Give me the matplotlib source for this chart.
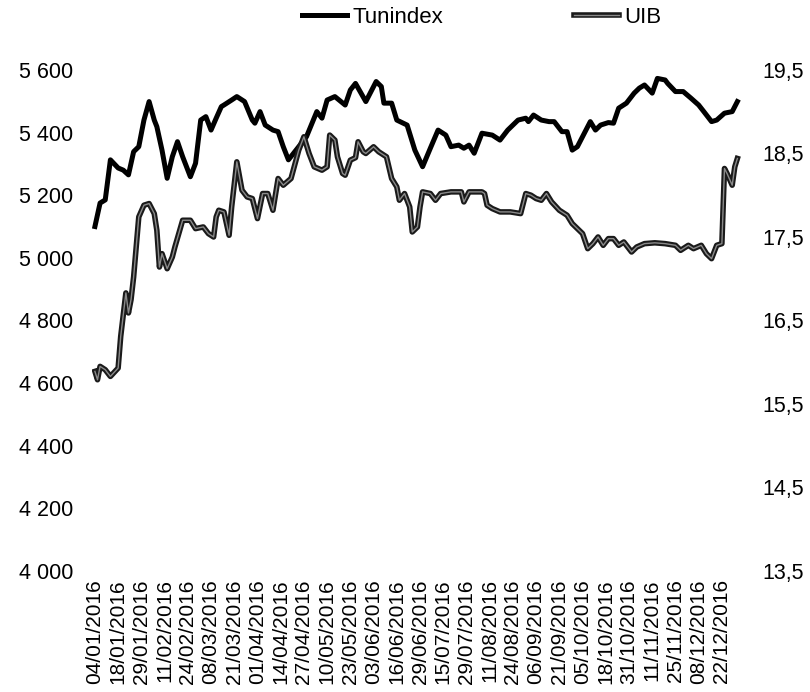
import matplotlib
matplotlib.use("Agg")
import matplotlib.pyplot as plt
import matplotlib.patheffects as pe
from matplotlib.ticker import FuncFormatter

plt.rcParams['font.family'] = ['Liberation Sans', 'DejaVu Sans']

# --- data (x = trading-day index in 2016) ---
tun_days = [0, 2, 4, 6, 9, 11, 13, 15, 17, 19, 21, 23, 24, 26, 28, 30, 32, 34, 37, 39,
            41, 43, 45, 47, 49, 50, 53, 55, 58, 61, 62, 64, 66, 69, 71, 73, 75, 79, 82, 86,
            88, 90, 93, 97, 99, 101, 105, 109, 111, 112, 115, 117, 121, 124, 127, 130, 133, 136, 138, 141,
            143, 145, 147, 150, 154, 157, 160, 164, 167, 168, 170, 173, 176, 178, 181, 183, 185, 187, 190, 192,
            194, 196, 199, 201, 203, 206, 209, 211, 213, 216, 218, 221, 222, 225, 228, 231, 234, 236, 239, 241,
            244, 247, 249]
tunindex = [5100, 5175, 5185, 5313, 5287, 5280, 5265, 5339, 5355, 5440, 5499, 5440, 5419, 5344, 5254, 5323, 5371, 5323, 5259, 5302,
            5440, 5451, 5408, 5446, 5483, 5488, 5504, 5515, 5499, 5440, 5430, 5467, 5424, 5408, 5403, 5355, 5313, 5355, 5387, 5467,
            5446, 5504, 5515, 5488, 5536, 5557, 5499, 5563, 5547, 5494, 5494, 5440, 5424, 5344, 5291, 5350, 5408, 5392, 5355, 5360,
            5350, 5360, 5334, 5398, 5392, 5376, 5408, 5440, 5446, 5435, 5456, 5440, 5435, 5435, 5403, 5403, 5344, 5355, 5403, 5435,
            5408, 5424, 5432, 5430, 5478, 5494, 5526, 5542, 5552, 5526, 5573, 5568, 5557, 5531, 5531, 5510, 5488, 5467, 5435, 5440,
            5462, 5467, 5499]

uib_days = [0, 1, 2, 4, 6, 9, 10, 12, 13, 14, 15, 17, 19, 21, 23, 24, 25, 26, 28, 30,
            31, 34, 37, 39, 42, 44, 46, 47, 48, 50, 52, 53, 55, 57, 59, 61, 63, 65, 67, 69,
            71, 73, 76, 79, 81, 83, 85, 88, 90, 91, 93, 94, 96, 97, 99, 101, 102, 104, 105, 108,
            110, 112, 113, 115, 117, 118, 120, 122, 123, 125, 126, 127, 130, 132, 134, 138, 142, 143, 145, 150,
            151, 152, 154, 157, 161, 165, 167, 169, 171, 173, 175, 177, 180, 183, 185, 187, 189, 191, 193, 195,
            197, 199, 201, 203, 205, 208, 210, 213, 217, 221, 225, 227, 230, 232, 235, 237, 239, 241, 243, 244,
            245, 247, 248, 249]
uib = [15.89, 15.79, 15.95, 15.91, 15.83, 15.93, 16.31, 16.83, 16.59, 16.75, 17.02, 17.74, 17.88, 17.90, 17.78, 17.58, 17.14, 17.30, 17.12, 17.26,
       17.38, 17.70, 17.70, 17.60, 17.62, 17.54, 17.50, 17.74, 17.82, 17.80, 17.52, 17.86, 18.40, 18.06, 17.98, 17.96, 17.72, 18.02, 18.02, 17.82,
       18.20, 18.12, 18.20, 18.54, 18.70, 18.50, 18.34, 18.30, 18.34, 18.72, 18.66, 18.46, 18.26, 18.24, 18.42, 18.45, 18.64, 18.52, 18.50, 18.58,
       18.52, 18.48, 18.46, 18.20, 18.10, 17.94, 18.02, 17.86, 17.56, 17.62, 17.86, 18.04, 18.02, 17.94, 18.02, 18.04, 18.04, 17.92, 18.04, 18.04,
       18.02, 17.88, 17.84, 17.80, 17.80, 17.78, 18.02, 18.00, 17.96, 17.94, 18.02, 17.92, 17.82, 17.76, 17.66, 17.60, 17.54, 17.36, 17.42, 17.50,
       17.40, 17.48, 17.48, 17.40, 17.44, 17.32, 17.38, 17.42, 17.43, 17.42, 17.40, 17.34, 17.40, 17.36, 17.40, 17.30, 17.24, 17.40, 17.42, 18.32,
       18.26, 18.12, 18.34, 18.44]

tick_days = list(range(0, 244, 9))
tick_labels = ["04/01/2016", "18/01/2016", "29/01/2016", "11/02/2016", "24/02/2016", "08/03/2016",
               "21/03/2016", "01/04/2016", "14/04/2016", "27/04/2016", "10/05/2016", "23/05/2016",
               "03/06/2016", "16/06/2016", "29/06/2016", "15/07/2016", "29/07/2016", "11/08/2016",
               "24/08/2016", "06/09/2016", "21/09/2016", "05/10/2016", "18/10/2016", "31/10/2016",
               "11/11/2016", "25/11/2016", "08/12/2016", "22/12/2016"]
left_ticks = [4000, 4200, 4400, 4600, 4800, 5000, 5200, 5400, 5600]
right_ticks = [13.5, 14.5, 15.5, 16.5, 17.5, 18.5, 19.5]

fig = plt.figure(figsize=(8.1, 6.92), dpi=100)
ax = fig.add_axes([0.114, 0.1749, 0.8027, 0.724])
ax2 = ax.twinx()

l1, = ax.plot(tun_days, tunindex, color='black', lw=3.6, solid_joinstyle='round', label='Tunindex')
l2, = ax2.plot(uib_days, uib, color='#8a8a8a', lw=1.0, label='UIB',
               path_effects=[pe.Stroke(linewidth=4.0, foreground='#1a1a1a'), pe.Normal()])

ax.set_xlim(-1, 251)
ax.set_ylim(4000, 5600)
ax2.set_ylim(13.5, 19.5)

ax.set_yticks(left_ticks)
ax.yaxis.set_major_formatter(FuncFormatter(lambda v, p: f"{int(v):,}".replace(",", " ")))
ax2.set_yticks(right_ticks)
ax2.yaxis.set_major_formatter(FuncFormatter(lambda v, p: f"{v:.1f}".replace(".", ",")))

ax.set_xticks(tick_days)
ax.set_xticklabels(tick_labels, rotation=90)

for a in (ax, ax2):
    for s in a.spines.values():
        s.set_visible(False)
    a.tick_params(length=0, labelsize=15.5, colors='black')
ax.tick_params(axis='y', pad=14)
ax2.tick_params(axis='y', pad=14)
ax.tick_params(axis='x', pad=6, labelsize=15)

fig.legend(handles=[l1, l2], loc='center', bbox_to_anchor=(0.595, 0.975), ncol=2,
           frameon=False, fontsize=16, handlelength=2.0, handletextpad=0.25, columnspacing=5.9)

plt.savefig("out.png", dpi=100)
plt.close()
